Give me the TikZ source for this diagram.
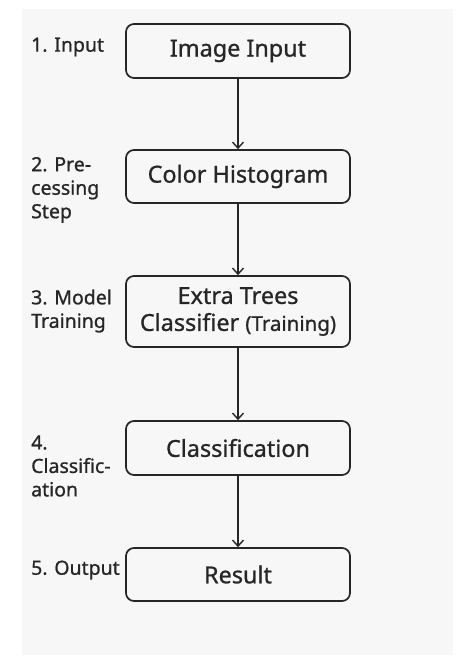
\documentclass[tikz,border=0pt]{standalone}
\usepackage{fontspec}
\setmainfont{Noto Sans}[FakeBold=0.9]
\usetikzlibrary{arrows.meta}

\definecolor{bgpanel}{HTML}{F7F7F7}
\definecolor{inkgray}{HTML}{262626}

\tikzset{
  stagebox/.style={draw=inkgray, line width=1.7pt, rounded corners=8pt,
    minimum width=224pt, align=center, font=\fontsize{23.4}{27}\selectfont\bfseries,
    text=inkgray, inner sep=0pt},
  steplabel/.style={anchor=west, align=left, inner sep=0pt,
    font=\fontsize{19.5}{23.5}\selectfont\bfseries, text=inkgray},
  flowarrow/.style={draw=inkgray, line width=1.4pt,
    -{Straight Barb[length=6pt,width=11pt,line width=1.4pt]}}
}

\begin{document}
\begin{tikzpicture}[x=1pt,y=-1pt]
    \useasboundingbox (0,0) rectangle (471,661);
    \fill[bgpanel] (22,9) rectangle (453,655);

    % boxes
    \node[stagebox, minimum height=54pt] (input)    at (238,51)    {Image Input};
    \node[stagebox, minimum height=53pt] (hist)     at (238,176.5) {Color Histogram};
    \node[stagebox, minimum height=71pt] (trees)    at (238,311.5)
        {Extra Trees\\Classifier {\fontsize{20.5}{27}\selectfont\mdseries(Training)}};
    \node[stagebox, minimum height=54pt] (classify) at (238,448)   {Classification};
    \node[stagebox, minimum height=53pt] (result)   at (238,574.5) {Result};

    % stage names on the left
    \node[steplabel] (l1) at (31,47)  {1. Input};
    \node[steplabel] (l2) at (31,190) {2. Pre-\\cessing\\Step};
    \node[steplabel] (l3) at (31,311) {3. Model\\Training};
    \node[steplabel] (l4) at (31,466) {4.\\Classific-\\ation};
    \node[steplabel] (l5) at (31,570) {5. Output};

    \draw[flowarrow] (input)    -- (hist);
    \draw[flowarrow] (hist)     -- (trees);
    \draw[flowarrow] (trees)    -- (classify);
    \draw[flowarrow] (classify) -- (result);
\end{tikzpicture}
\end{document}
